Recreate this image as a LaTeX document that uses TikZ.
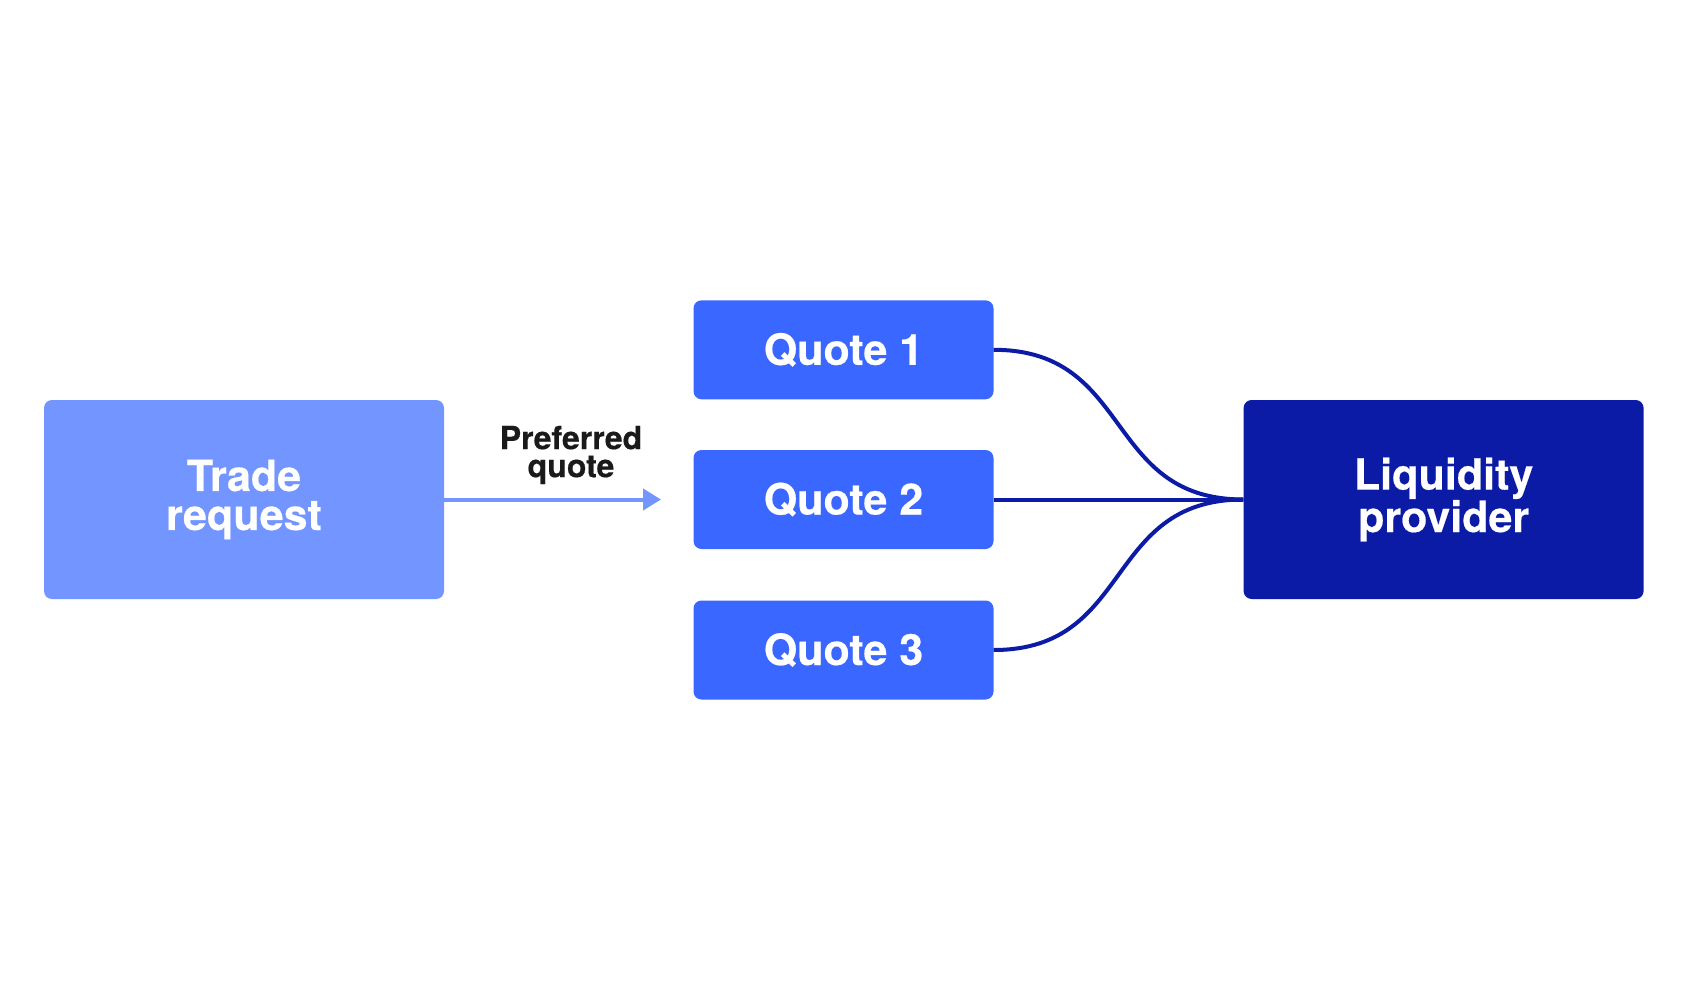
\documentclass[tikz,border=0pt]{standalone}
\usepackage{fontspec}
\setmainfont{TeX Gyre Heros}
\newfontfamily\boxfont[FakeBold=0.4]{TeX Gyre Heros Bold}
\usetikzlibrary{arrows.meta}
\definecolor{tradefill}{HTML}{7395FF}
\definecolor{quotefill}{HTML}{3A67FF}
\definecolor{lpfill}{HTML}{0B1BA5}
\definecolor{linkcol}{HTML}{0C1BA6}
\definecolor{labelcol}{HTML}{1A1A1A}
\begin{document}
\begin{tikzpicture}[x=1pt,y=-1pt,
  bigbox/.style={rounded corners=8pt, inner sep=0pt, minimum width=400pt, minimum height=199pt,
    text=white, align=center, font=\boxfont\fontsize{43}{39}\selectfont},
  quotebox/.style={rounded corners=8pt, inner sep=0pt, minimum width=300pt, minimum height=99pt,
    fill=quotefill, text=white, font=\boxfont\fontsize{43}{39}\selectfont},
  link/.style={draw=linkcol, line width=4pt},
]
\useasboundingbox[fill=white] (0,0) rectangle (1700,1000);
\node[bigbox, fill=tradefill] (trade) at (244,499.5) {Trade\\request};
\node[bigbox, fill=lpfill] (lp) at (1443.6,499.5) {Liquidity\\provider};
\node[quotebox] (q1) at (843.5,349.8) {Quote 1};
\node[quotebox] (q2) at (843.5,499.5) {Quote 2};
\node[quotebox] (q3) at (843.5,650) {Quote 3};
\coordinate (atip) at (661,499.5);
\draw[draw=tradefill, line width=4pt, -{Triangle[length=18pt,width=21pt]}] (trade.east) -- (atip);
\node[text=labelcol, align=center, inner sep=0pt, font=\boxfont\fontsize{32}{28}\selectfont] (lbl) at (571,455) {Preferred\\quote};
\draw[link] (q1.east) .. controls +(140,0) and +(-140,0) .. (lp.west);
\draw[link] (q2.east) -- (lp.west);
\draw[link] (q3.east) .. controls +(140,0) and +(-140,0) .. (lp.west);
\end{tikzpicture}
\end{document}
